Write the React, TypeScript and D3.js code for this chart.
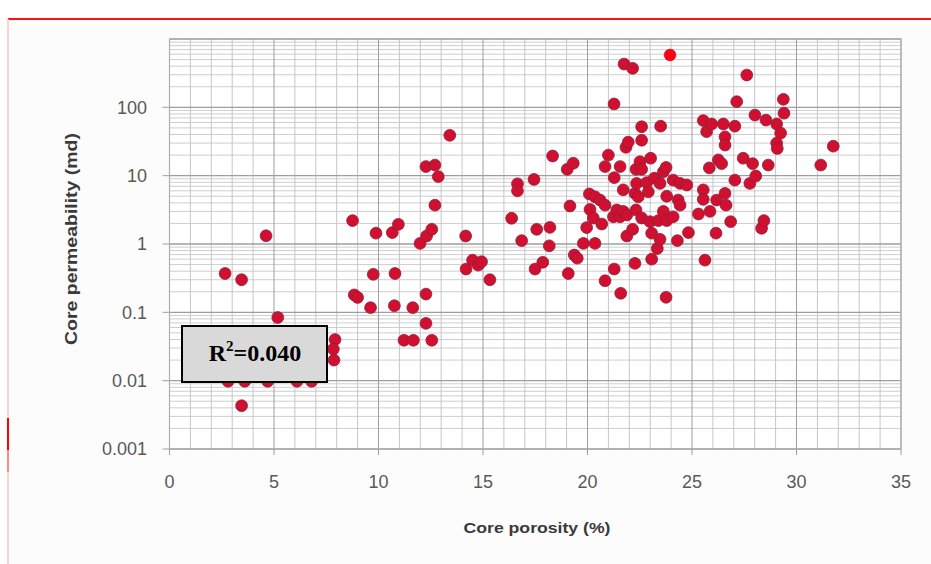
import React, { useRef, useEffect } from 'react';
import * as d3 from 'd3';

// core porosity (%) and core permeability (md)
const porosity = [
  2.66, 3.45, 4.62, 5.18, 3.45, 2.8, 3.6, 4.7, 6.1, 6.8,
  7.92, 7.84, 7.87, 8.76, 9.88, 10.66, 10.95, 9.75, 10.79, 8.84,
  9.0, 9.62, 10.76, 11.22, 11.67, 12.55, 11.64, 12.27, 12.27, 11.99,
  12.3, 12.55, 12.7, 12.27, 12.7, 12.86, 13.41, 14.17, 14.19, 14.5,
  14.77, 14.93, 15.33, 16.37, 16.65, 16.65, 16.85, 17.44, 17.57, 17.49,
  17.86, 18.2, 18.17, 18.33, 19.03, 19.32, 19.16, 19.08, 19.37, 19.51,
  19.8, 19.96, 20.12, 20.09, 20.36, 20.6, 20.84, 20.28, 20.36, 20.68,
  20.84, 21.0, 20.84, 21.27, 21.28, 21.28, 21.24, 21.4, 21.56, 21.56,
  21.59, 21.71, 21.71, 21.75, 21.84, 21.95, 21.88, 21.88, 22.16, 22.16,
  22.27, 22.27, 22.32, 22.32, 22.35, 22.43, 22.51, 22.59, 22.59, 22.59,
  22.59, 22.83, 22.91, 22.99, 23.02, 23.07, 23.07, 23.2, 23.34, 23.39,
  23.47, 23.47, 23.5, 23.63, 23.63, 23.76, 23.76, 23.79, 23.79, 24.1,
  24.1, 24.3, 24.34, 24.43, 24.43, 24.75, 24.83, 25.31, 25.54, 25.54,
  25.54, 25.62, 25.7, 25.83, 25.86, 25.94, 26.15, 26.18, 26.26, 26.42,
  26.5, 26.58, 26.58, 26.58, 26.63, 26.85, 27.05, 27.05, 27.14, 27.45,
  27.62, 27.77, 27.9, 28.01, 28.05, 28.33, 28.44, 28.54, 28.65, 29.05,
  29.05, 29.08, 29.24, 29.37, 29.4, 31.16, 31.76
];
const permeability = [
  0.37, 0.30, 1.32, 0.084, 0.0043, 0.0098, 0.0098, 0.0098, 0.0098, 0.0098,
  0.040, 0.029, 0.020, 2.2, 1.44, 1.47, 1.94, 0.36, 0.37, 0.18,
  0.165, 0.117, 0.125, 0.039, 0.039, 0.039, 0.117, 0.185, 0.069, 1.02,
  1.31, 1.64, 3.7, 13.6, 14.3, 9.7, 39, 1.31, 0.43, 0.58,
  0.49, 0.55, 0.30, 2.38, 7.6, 6.0, 1.12, 8.8, 1.64, 0.43,
  0.54, 1.75, 0.94, 19.4, 12.4, 15.2, 3.6, 0.37, 0.69, 0.62,
  1.02, 1.74, 3.2, 5.4, 4.9, 4.4, 3.7, 2.4, 1.02, 1.96,
  0.29, 20, 13.6, 112, 9.35, 0.43, 2.5, 3.15, 2.5, 13.6,
  0.19, 6.2, 3.0, 430, 26, 31, 2.66, 1.31, 372, 1.64,
  5.5, 0.52, 12.4, 3.15, 7.7, 4.9, 16, 52, 33, 12.4,
  2.4, 7.9, 5.8, 2.12, 18, 1.44, 0.6, 9.2, 0.86, 2.2,
  7.7, 1.17, 53, 11.4, 3.0, 13.2, 0.166, 5.0, 2.2, 8.6,
  2.5, 1.12, 4.4, 7.7, 3.7, 7.3, 1.47, 2.75, 64, 6.2,
  4.5, 0.58, 44, 13, 3.0, 57, 1.44, 4.4, 17, 15,
  57, 37, 28, 5.5, 3.7, 2.12, 53, 8.6, 121, 18,
  297, 7.7, 15, 77, 9.9, 1.7, 2.2, 65, 14.3, 57,
  30, 25, 42, 131, 82, 14.3, 27
];
// the single brighter marker at the top of the cloud
const brightPorosity = [23.95];
const brightPermeability = [583];

const xTicks = [0, 5, 10, 15, 20, 25, 30, 35];
const yTicks = [0.001, 0.01, 0.1, 1, 10, 100];
const yTickLabels = ['0.001', '0.01', '0.1', '1', '10', '100'];
const rSquared = '0.040';

const App = () => {
  const ref = useRef(null);

  useEffect(() => {
    const W = 931, H = 564;
    const left = 169.5, right = 901, top = 39, bottom = 449;

    const svg = d3.select(ref.current).attr('width', W).attr('height', H);
    svg.selectAll('*').remove();

    const x = d3.scaleLinear().domain([0, 35]).range([left, right]);
    const y = d3.scaleLog().domain([0.001, 1000]).range([bottom, top]);

    // chart background and the red frame around it
    svg.append('rect').attr('x', 8).attr('y', 19).attr('width', W - 8).attr('height', H - 19).attr('fill', '#fcfcfc');
    svg.append('line').attr('x1', 8).attr('x2', W).attr('y1', 19).attr('y2', 19)
      .attr('stroke', '#ff1010').attr('stroke-width', 2);
    svg.append('line').attr('x1', 8).attr('x2', 8).attr('y1', 19).attr('y2', H)
      .attr('stroke', '#ffc4c4').attr('stroke-width', 1.5);
    svg.append('line').attr('x1', 8).attr('x2', 8).attr('y1', 418).attr('y2', 450)
      .attr('stroke', '#ff0000').attr('stroke-width', 2);
    svg.append('line').attr('x1', 8).attr('x2', 8).attr('y1', 450).attr('y2', 472)
      .attr('stroke', '#ff8a8a').attr('stroke-width', 2);

    svg.append('rect').attr('x', left).attr('y', top).attr('width', right - left).attr('height', bottom - top)
      .attr('fill', '#ffffff');

    // log minor grid
    const minor = [];
    d3.range(-3, 3).forEach(d => {
      for (let k = 2; k <= 9; k++) minor.push(k * Math.pow(10, d));
    });
    svg.append('g').selectAll('line').data(minor).enter().append('line')
      .attr('x1', left).attr('x2', right)
      .attr('y1', d => y(d)).attr('y2', d => y(d))
      .attr('stroke', '#cecece').attr('stroke-width', 1);

    // vertical grid every 1 %
    svg.append('g').selectAll('line').data(d3.range(0, 36)).enter().append('line')
      .attr('x1', d => x(d)).attr('x2', d => x(d))
      .attr('y1', top).attr('y2', bottom)
      .attr('stroke', d => d % 5 === 0 ? '#9e9e9e' : '#c6c6c6').attr('stroke-width', 1);

    // decade lines
    svg.append('g').selectAll('line').data([0.001, 0.01, 0.1, 1, 10, 100, 1000]).enter().append('line')
      .attr('x1', left).attr('x2', right)
      .attr('y1', d => y(d)).attr('y2', d => y(d))
      .attr('stroke', '#9e9e9e').attr('stroke-width', 1.3);

    svg.append('rect').attr('x', left).attr('y', top).attr('width', right - left).attr('height', bottom - top)
      .attr('fill', 'none').attr('stroke', '#b0b0b0').attr('stroke-width', 1.2);

    // tick marks
    svg.append('g').selectAll('line').data(xTicks).enter().append('line')
      .attr('x1', d => x(d)).attr('x2', d => x(d)).attr('y1', bottom).attr('y2', bottom + 6)
      .attr('stroke', '#a0a0a0');
    svg.append('g').selectAll('line').data(yTicks).enter().append('line')
      .attr('x1', left - 7).attr('x2', left).attr('y1', d => y(d)).attr('y2', d => y(d))
      .attr('stroke', '#a0a0a0');

    // tick labels
    svg.append('g').selectAll('text').data(yTicks).enter().append('text')
      .attr('x', 147).attr('y', d => y(d)).attr('dy', '0.35em')
      .attr('text-anchor', 'end')
      .attr('font-family', 'Liberation Sans, Arial, sans-serif').attr('font-size', 18)
      .attr('fill', '#595959')
      .text((d, i) => yTickLabels[i]);
    svg.append('g').selectAll('text').data(xTicks).enter().append('text')
      .attr('x', d => x(d)).attr('y', 488)
      .attr('text-anchor', 'middle')
      .attr('font-family', 'Liberation Sans, Arial, sans-serif').attr('font-size', 18)
      .attr('fill', '#595959')
      .text(d => d);

    // axis titles
    svg.append('text').attr('x', 537).attr('y', 533).attr('text-anchor', 'middle')
      .attr('font-family', 'Liberation Sans, Arial, sans-serif').attr('font-size', 15).attr('font-weight', 'bold')
      .attr('fill', '#3a3a3a').attr('textLength', 147).attr('lengthAdjust', 'spacingAndGlyphs')
      .text('Core porosity (%)');
    svg.append('text').attr('transform', 'translate(71,239) rotate(-90)').attr('text-anchor', 'middle')
      .attr('dy', '0.35em')
      .attr('font-family', 'Liberation Sans, Arial, sans-serif').attr('font-size', 16).attr('font-weight', 'bold')
      .attr('fill', '#3a3a3a').attr('textLength', 212).attr('lengthAdjust', 'spacingAndGlyphs')
      .text('Core permeability (md)');

    // points
    const pts = porosity.map((p, i) => ({ p, k: permeability[i] }));
    svg.append('g').selectAll('circle').data(pts).enter().append('circle')
      .attr('cx', d => x(d.p)).attr('cy', d => y(d.k)).attr('r', 5.9)
      .attr('fill', '#d0102e').attr('stroke', '#8a1f40').attr('stroke-width', 0.8);
    const bright = brightPorosity.map((p, i) => ({ p, k: brightPermeability[i] }));
    svg.append('g').selectAll('circle').data(bright).enter().append('circle')
      .attr('cx', d => x(d.p)).attr('cy', d => y(d.k)).attr('r', 5.9)
      .attr('fill', '#ff0010').attr('stroke', '#c0103a').attr('stroke-width', 0.6);

    // R² box
    svg.append('rect').attr('x', 182).attr('y', 326).attr('width', 145).attr('height', 56)
      .attr('fill', '#d9d9d9').attr('stroke', '#000').attr('stroke-width', 2);
    const t = svg.append('text').attr('x', 255).attr('y', 361).attr('text-anchor', 'middle')
      .attr('font-family', 'Liberation Serif, Times New Roman, serif').attr('font-weight', 'bold')
      .attr('font-size', 24).attr('fill', '#000');
    t.append('tspan').text('R');
    t.append('tspan').attr('dy', -10).attr('font-size', 15).text('2');
    t.append('tspan').attr('dy', 10).text('=' + rSquared);
  }, []);

  return (
    <div style={{ position: 'absolute', left: 0, top: 0, background: '#fff' }}>
      <svg ref={ref}></svg>
    </div>
  );
};

export default App;
